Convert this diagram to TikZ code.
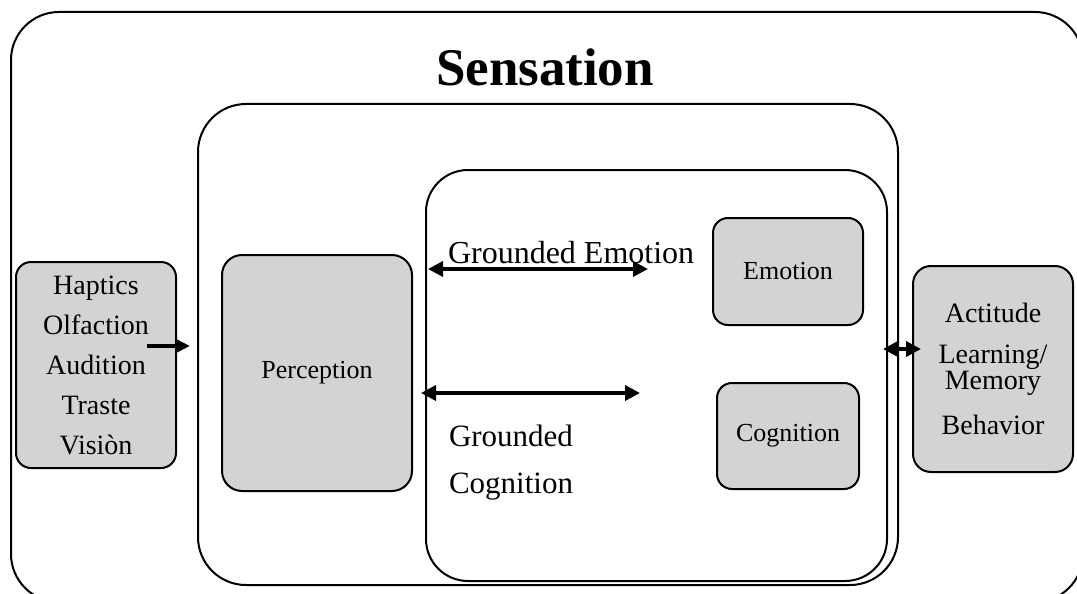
\documentclass[tikz,border=0pt]{standalone}
\usepackage{fontspec}
\setmainfont{Liberation Serif}
\usetikzlibrary{arrows.meta}
\definecolor{boxgrey}{RGB}{211,211,211}

\begin{document}
\begin{tikzpicture}[x=1pt, y=-1pt, line width=2pt,
  frame/.style={draw, rounded corners=#1, inner sep=0pt},
  greybox/.style={draw, fill=boxgrey, rounded corners=#1, inner sep=0pt, align=center},
  flow/.style={line width=4pt, -{Triangle[length=15pt,width=14pt]}},
  twoway/.style={line width=3.5pt, {Triangle[length=15pt,width=15pt]}-{Triangle[length=15pt,width=15pt]}}]
  \useasboundingbox (0,0) rectangle (1077,594);
  \clip (0,0) rectangle (1077,594);
  % frames
  \node[frame=48pt, minimum width=1072pt, minimum height=590pt] (sensation) at (547,307) {};
  \node[frame=48pt, minimum width=700pt, minimum height=481pt] (mid) at (548,344.5) {};
  \node[frame=42pt, minimum width=461pt, minimum height=411pt] (inner) at (656.5,375.5) {};
  \node[font=\fontsize{53}{60}\selectfont\bfseries, anchor=base] (title) at (545,85) {Sensation};
  % grey boxes
  \node[greybox=15pt, minimum width=160pt, minimum height=206pt, font=\fontsize{28}{40}\selectfont]
    (senses) at (96,365) {Haptics\\Olfaction\\Audition\\Traste\\Visiòn};
  \node[greybox=20pt, minimum width=190pt, minimum height=236pt, font=\fontsize{26}{30}\selectfont]
    (perception) at (317,373) {Perception};
  \node[greybox=15pt, minimum width=150pt, minimum height=107pt, font=\fontsize{26}{30}\selectfont]
    (emotion) at (788,271.5) {Emotion};
  \node[greybox=15pt, minimum width=142pt, minimum height=106pt, font=\fontsize{26}{30}\selectfont]
    (cognition) at (788,436) {Cognition};
  \node[greybox=18pt, minimum width=160pt, minimum height=206pt, font=\fontsize{28}{26}\selectfont]
    (outcome) at (993,369) {Actitude\\[15pt]Learning/\\Memory\\[19pt]Behavior};
  \node[anchor=base west, inner sep=0pt, font=\fontsize{32}{36}\selectfont]
    (gemotion) at (447,263) {Grounded Emotion};
  \node[anchor=north west, inner sep=0pt, align=left, font=\fontsize{31}{47}\selectfont]
    (gcognition) at (448,424) {Grounded\\Cognition};
  \coordinate (inflow) at (147,346);
  \coordinate (ge) at (648,269);
  \coordinate (gc) at (640,393);
  \coordinate (link) at (883,349);
  \draw[flow, shorten >=7pt] (inflow) -- (inflow -| mid.west);
  \draw[twoway, shorten <=3pt] (ge -| inner.west) -- (ge);
  \draw[twoway, shorten <=-4pt] (gc -| inner.west) -- (gc);
  \draw[twoway, line width=4pt, shorten >=-9pt] (link) -- (link -| outcome.west);
\end{tikzpicture}
\end{document}
